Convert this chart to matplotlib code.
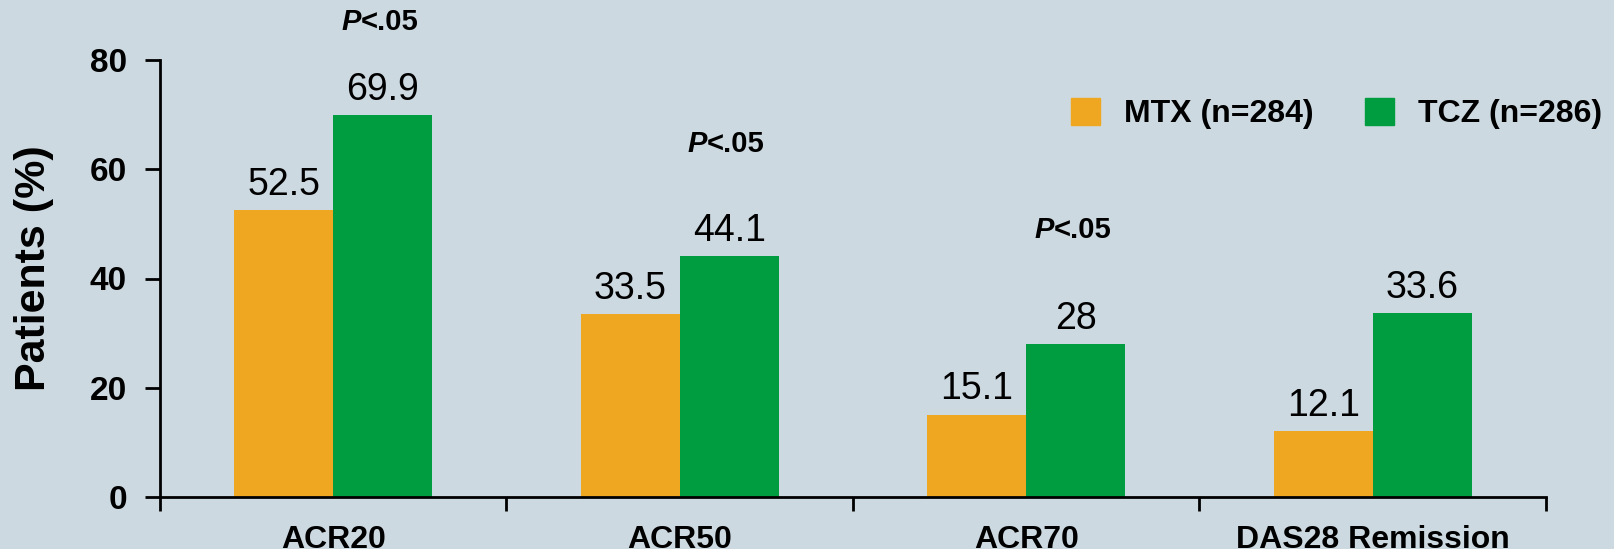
"""ACR / DAS28 response bars, MTX vs TCZ"""

import numpy as np
import matplotlib
matplotlib.use("Agg")
import matplotlib.pyplot as plt
from matplotlib.patches import Patch

# %% data

categories = ["ACR20", "ACR50", "ACR70", "DAS28 Remission"]
mtx = [52.5, 33.5, 15.1, 12.1]
tcz = [69.9, 44.1, 28, 33.6]
series_names = ["MTX (n=284)", "TCZ (n=286)"]
sig_heights = [87, 64.6, 48.9]   # where the P<.05 notes sit, first three groups

# %% style

bg = "#CDD9E1"
orange = "#EFA721"
green = "#009D40"
plt.rcParams["font.family"] = ["Liberation Sans", "DejaVu Sans"]

fig = plt.figure(figsize=(16.15, 5.49), dpi=100, facecolor=bg)
ax = fig.add_axes([160 / 1615, 1 - 497 / 549, 1386 / 1615, 437 / 549])
ax.set_facecolor(bg)

x = np.arange(len(categories)) + 0.5
w = 0.286
ax.bar(x - w / 2, mtx, w, color=orange, zorder=2)
ax.bar(x + w / 2, tcz, w, color=green, zorder=2)

for xi, v in zip(x - w / 2, mtx):
    ax.annotate(f"{v:g}", (xi, v), xytext=(0, 11), textcoords="offset points",
                ha="center", va="baseline", fontsize=27)
for xi, v in zip(x + w / 2, tcz):
    ax.annotate(f"{v:g}", (xi, v), xytext=(0, 11), textcoords="offset points",
                ha="center", va="baseline", fontsize=27)

# "P<.05": italic P, upright "<.05", whole thing centred over the TCZ bar
for xi, yi in zip(x[:3] + w / 2 - 0.01, sig_heights):
    ax.annotate("P", (xi, yi), xytext=(-13.5, 0), textcoords="offset points",
                fontsize=21, fontweight="bold", fontstyle="italic",
                ha="right", va="center", annotation_clip=False)
    ax.annotate("<.05", (xi, yi), xytext=(-13.5, 0), textcoords="offset points",
                fontsize=21, fontweight="bold",
                ha="left", va="center", annotation_clip=False)

# %% axes

ax.set_xlim(0, len(categories))
ax.set_ylim(0, 80)
ax.set_yticks([0, 20, 40, 60, 80])
ax.set_xticks(np.arange(len(categories) + 1))
ax.set_xticklabels([])
ax.set_xticks(x, minor=True)
ax.set_xticklabels(categories, minor=True, fontsize=23, fontweight="bold")
ax.tick_params(axis="x", which="major", length=10, width=2, direction="out")
ax.tick_params(axis="x", which="minor", length=0, pad=20)
ax.tick_params(axis="y", length=10.8, width=2, pad=13, labelsize=24)
for lab in ax.get_yticklabels():
    lab.set_fontweight("bold")

for s in ["top", "right"]:
    ax.spines[s].set_visible(False)
for s in ["left", "bottom"]:
    ax.spines[s].set_linewidth(2)

ax.set_ylabel("Patients (%)", fontsize=31, fontweight="bold", va="center")
ax.yaxis.set_label_coords(-0.0909, 0.5227)

handles = [Patch(color=orange), Patch(color=green)]
ax.legend(handles, series_names, ncol=2, frameon=False,
          loc="center left", bbox_to_anchor=(1070.6 / 1615, 1 - 113.5 / 549),
          bbox_transform=fig.transFigure, borderpad=0, borderaxespad=0,
          handlelength=0.92, handleheight=0.91, handletextpad=0.75,
          columnspacing=1.6, prop={"size": 23, "weight": "bold"})

fig.savefig("out.png", dpi=100, facecolor=bg)
